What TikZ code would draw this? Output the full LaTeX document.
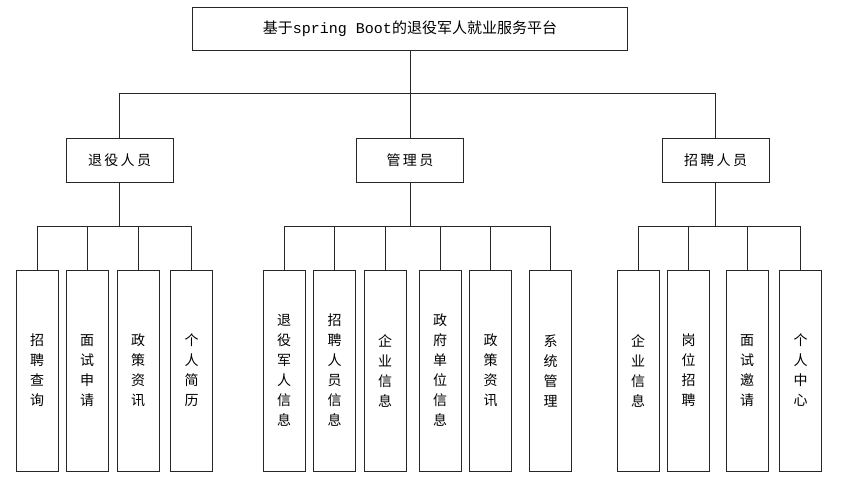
\documentclass[tikz,border=0pt]{standalone}
\usepackage{fontspec}
\setmainfont{Noto Sans CJK SC}
\setmonofont{Liberation Mono}
\usetikzlibrary{positioning}

\begin{document}
\begin{tikzpicture}[x=1pt, y=-1pt, line width=0.8pt,
    every node/.style={draw=black!85, inner sep=0pt, align=center},
    rolebox/.style={minimum width=107pt, minimum height=44pt, font=\fontsize{14}{16}\selectfont},
    leafbox/.style={minimum width=42pt, minimum height=201pt, font=\fontsize{14}{20}\selectfont}]
    \useasboundingbox (0,0) rectangle (843,503);
    % top and second level, explicit coordinates
    \node (platform) at (410,28.5) [minimum width=435pt, minimum height=43pt, font=\fontsize{15}{16}\selectfont] {基于{\ttfamily spring Boot}的退役军人就业服务平台};
    \node[rolebox] (veteran) at (119.5,160) {退\,役\,人\,员};
    \node[rolebox] (admin)   at (410,160)   {管\,理\,员};
    \node[rolebox] (hirer)   at (715.5,160) {招\,聘\,人\,员};

    % veteran functions
    \node[leafbox] (vquery)  at (37,370.5)  {招\\聘\\查\\询};
    \node[leafbox] (vapply)  at (87,370.5)  {面\\试\\申\\请};
    \node[leafbox] (vpolicy) at (138,370.5) {政\\策\\资\\讯};
    \node[leafbox] (vresume) at (191.5,370.5) {个\\人\\简\\历};

    % admin functions
    \node[leafbox] (avet)    at (284,370.5) {退\\役\\军\\人\\信\\息};
    \node[leafbox] (ahirer)  at (334.5,370.5) {招\\聘\\人\\员\\信\\息};
    \node[leafbox] (acorp)   at (385,370.5) {企\\业\\信\\息};
    \node[leafbox] (agov)    at (440,370.5) {政\\府\\单\\位\\信\\息};
    \node[leafbox] (apolicy) at (490.5,370.5) {政\\策\\资\\讯};
    \node[leafbox] (asys)    at (550.5,370.5) {系\\统\\管\\理};

    % hirer functions
    \node[leafbox] (hcorp)   at (638,370.5) {企\\业\\信\\息};
    \node[leafbox] (hjob)    at (688.5,370.5) {岗\\位\\招\\聘};
    \node[leafbox] (hinvite) at (747,370.5) {面\\试\\邀\\请};
    \node[leafbox] (hcenter) at (800.5,370.5) {个\\人\\中\\心};

    % tree connectors
    \draw[black!85] (platform.south) -- ++(0,43) -| (veteran.north);
    \draw[black!85] (platform.south) -- (admin.north);
    \draw[black!85] (platform.south) -- ++(0,43) -| (hirer.north);

    \draw[black!85] (veteran.south) -- ++(0,44) -| (vquery.north);
    \draw[black!85] (veteran.south) -- ++(0,44) -| (vapply.north);
    \draw[black!85] (veteran.south) -- ++(0,44) -| (vpolicy.north);
    \draw[black!85] (veteran.south) -- ++(0,44) -| (vresume.north);

    \draw[black!85] (admin.south) -- ++(0,44) -| (avet.north);
    \draw[black!85] (admin.south) -- ++(0,44) -| (ahirer.north);
    \draw[black!85] (admin.south) -- ++(0,44) -| (acorp.north);
    \draw[black!85] (admin.south) -- ++(0,44) -| (agov.north);
    \draw[black!85] (admin.south) -- ++(0,44) -| (apolicy.north);
    \draw[black!85] (admin.south) -- ++(0,44) -| (asys.north);

    \draw[black!85] (hirer.south) -- ++(0,44) -| (hcorp.north);
    \draw[black!85] (hirer.south) -- ++(0,44) -| (hjob.north);
    \draw[black!85] (hirer.south) -- ++(0,44) -| (hinvite.north);
    \draw[black!85] (hirer.south) -- ++(0,44) -| (hcenter.north);
\end{tikzpicture}
\end{document}
